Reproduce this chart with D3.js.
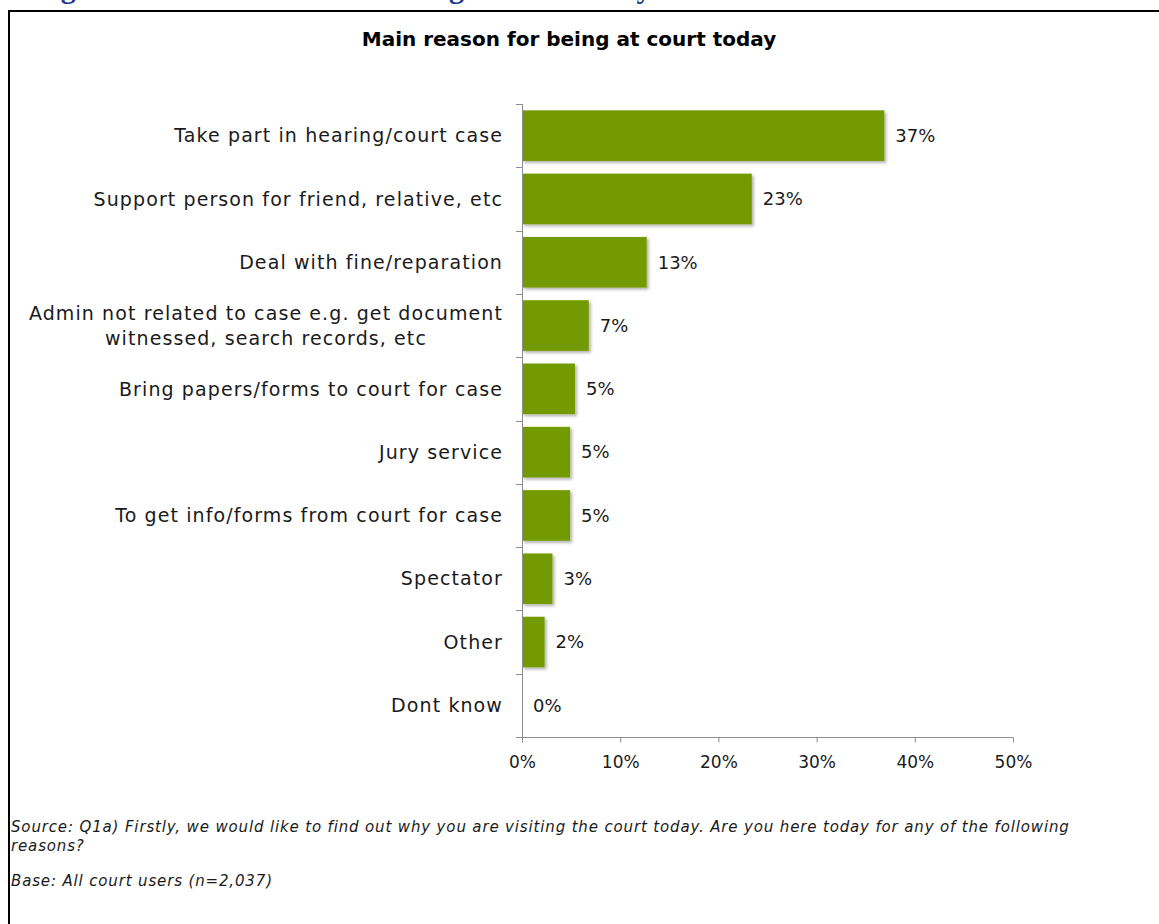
<!DOCTYPE html>
<html>
<head>
<meta charset="utf-8">
<script src="https://cdn.jsdelivr.net/npm/d3@7"></script>
<style>
  html, body { margin: 0; padding: 0; background: #ffffff; }
  svg { display: block; }
</style>
</head>
<body>
<svg id="chart" width="1159" height="924"></svg>
<script>
// Survey results: main reason for attending court
const categories = [
  "Take part in hearing/court case",
  "Support person for friend, relative, etc",
  "Deal with fine/reparation",
  "Admin not related to case e.g. get document|witnessed, search records, etc",
  "Bring papers/forms to court for case",
  "Jury service",
  "To get info/forms from court for case",
  "Spectator",
  "Other",
  "Dont know"
];
const values = [36.9, 23.4, 12.7, 6.8, 5.4, 4.9, 4.9, 3.1, 2.3, 0];
const xTicks = [0, 10, 20, 30, 40, 50];

const heading = "Figure 3.1: Main reason for being at court today";
const chartTitle = "Main reason for being at court today";
const sourceLines = [
  "Source: Q1a) Firstly, we would like to find out why you are visiting the court today. Are you here today for any of the following",
  "reasons?"
];
const baseNote = "Base: All court users (n=2,037)";

const labelFont = "'DejaVu Sans', sans-serif";
const svg = d3.select("#chart");

// Shadow under bars
const defs = svg.append("defs");
const f = defs.append("filter").attr("id", "barShadow")
  .attr("x", "-10%").attr("y", "-10%").attr("width", "130%").attr("height", "140%");
f.append("feDropShadow").attr("dx", 2).attr("dy", 2).attr("stdDeviation", 1.5)
  .attr("flood-color", "#000").attr("flood-opacity", 0.3);

// Report heading (sits above the frame, mostly clipped by the page top)
svg.append("text")
  .attr("x", 34).attr("y", -2)
  .attr("font-family", "'Liberation Serif', serif")
  .attr("font-weight", "bold")
  .attr("font-size", 30)
  .attr("fill", "#1f3a8f")
  .text(heading);

// Frame
svg.append("path")
  .attr("d", "M9,930 L9,11 L1170,11")
  .attr("fill", "none").attr("stroke", "#000").attr("stroke-width", 2);

// Title
svg.append("text")
  .attr("x", 569).attr("y", 46)
  .attr("text-anchor", "middle")
  .attr("font-family", "'DejaVu Sans', sans-serif")
  .attr("font-weight", "bold")
  .attr("font-size", 20)
  .attr("fill", "#000")
  .text(chartTitle);

const x = d3.scaleLinear().domain([0, 50]).range([522, 1013]);
const y = d3.scaleBand().domain(categories).range([104, 737]).paddingInner(0.2).paddingOuter(0.1);

// Bars
svg.append("g").selectAll("rect")
  .data(values)
  .join("rect")
  .attr("x", x(0))
  .attr("y", (d, i) => y(categories[i]))
  .attr("width", d => x(d) - x(0))
  .attr("height", y.bandwidth())
  .attr("fill", "#739a00")
  .attr("filter", d => d > 0 ? "url(#barShadow)" : null);

// Value labels
svg.append("g").selectAll("text")
  .data(values)
  .join("text")
  .attr("x", d => x(d) + 11)
  .attr("y", (d, i) => y(categories[i]) + y.bandwidth() / 2)
  .attr("dy", "0.35em")
  .attr("font-family", labelFont)
  .attr("font-size", 18)
  .attr("fill", "#1a1a1a")
  .text(d => Math.round(d) + "%");

// Y axis: line plus ticks at band boundaries
const yAxis = svg.append("g").attr("stroke", "#8c8c8c").attr("stroke-width", 1);
yAxis.append("line").attr("x1", 522.5).attr("x2", 522.5).attr("y1", 104).attr("y2", 737);
d3.range(categories.length + 1).forEach(i => {
  const yy = Math.round(104 + i * (633 / categories.length)) + 0.5;
  yAxis.append("line").attr("x1", 516).attr("x2", 522).attr("y1", yy).attr("y2", yy);
});

// Category labels
const catG = svg.append("g")
  .attr("font-family", labelFont)
  .attr("font-size", 19)
  .attr("letter-spacing", 1.1)
  .attr("fill", "#1a1a1a");
categories.forEach((c, i) => {
  const lines = c.split("|");
  const cy = y(c) + y.bandwidth() / 2;
  const lh = 25;
  const t = catG.append("text").attr("text-anchor", "middle");
  lines.forEach((ln, j) => {
    t.append("tspan")
      .attr("y", cy + (j - (lines.length - 1) / 2) * lh)
      .attr("dy", "0.35em")
      .text(ln);
  });
  let w = 0;
  t.selectAll("tspan").each(function () { w = Math.max(w, this.getComputedTextLength()); });
  t.selectAll("tspan").attr("x", 503 - w / 2);
});

// X axis
const xAxis = svg.append("g")
  .attr("transform", "translate(0,737.5)")
  .call(d3.axisBottom(x).tickValues(xTicks).tickFormat(d => d + "%").tickSize(5).tickSizeOuter(0));
xAxis.select(".domain").attr("stroke", "#8c8c8c").attr("d", "M516,0H1013");
xAxis.selectAll(".tick line").attr("stroke", "#8c8c8c");
xAxis.selectAll(".tick text")
  .attr("font-family", labelFont)
  .attr("font-size", 17)
  .attr("fill", "#1a1a1a")
  .attr("dy", "1.35em");

// Footnotes
const foot = svg.append("g")
  .attr("font-family", labelFont)
  .attr("font-style", "italic")
  .attr("font-size", 15)
  .attr("letter-spacing", 0.85)
  .attr("fill", "#1a1a1a");
sourceLines.forEach((s, i) => {
  foot.append("text").attr("x", 11).attr("y", 832 + i * 19).text(s);
});
foot.append("text").attr("x", 11).attr("y", 886).text(baseNote);
</script>
</body>
</html>
